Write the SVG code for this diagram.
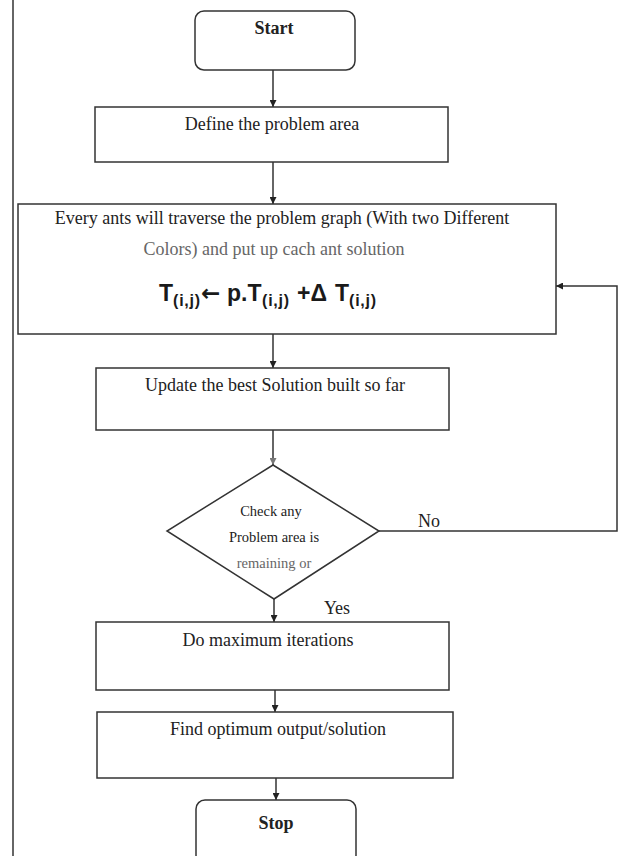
<svg xmlns="http://www.w3.org/2000/svg" width="628" height="856" viewBox="0 0 628 856">
<defs>
<marker id="ah" viewBox="0 0 10 10" refX="10" refY="5" markerWidth="7" markerHeight="7" orient="auto" markerUnits="userSpaceOnUse">
<path d="M0,0 L10,5 L0,10 z" fill="#222"/>
</marker>
<marker id="ahg" viewBox="0 0 10 10" refX="10" refY="5" markerWidth="7" markerHeight="7" orient="auto" markerUnits="userSpaceOnUse">
<path d="M0,0 L10,5 L0,10 z" fill="#777"/>
</marker>
</defs>
<style>
.box{fill:none;stroke:#333;stroke-width:1.5}
.t{font-family:"Liberation Serif",serif;font-size:18px;fill:#222;text-anchor:middle}
.b{font-weight:bold}
.s{font-size:14.5px}
.g{fill:#666}
.f{font-family:"Liberation Sans",Arial,sans-serif;font-weight:bold;font-size:23px;fill:#1a1a1a}
.sub{font-family:"Liberation Sans",Arial,sans-serif;font-weight:bold;font-size:16px;fill:#1a1a1a;letter-spacing:0.8px}
.arr{font-family:"DejaVu Sans",sans-serif;font-weight:bold;font-size:23px;fill:#1a1a1a}
.c{fill:none;stroke:#333;stroke-width:1.5}
</style>
<rect width="628" height="856" fill="#fff"/>
<line x1="13" y1="0" x2="13" y2="856" stroke="#333" stroke-width="1.5"/>
<g id="connectors">
<line class="c" x1="273" y1="70" x2="273" y2="107" marker-end="url(#ah)"/>
<line class="c" x1="273" y1="162" x2="273" y2="204" marker-end="url(#ah)"/>
<line class="c" x1="273" y1="334" x2="273" y2="368" marker-end="url(#ah)"/>
<line class="c" x1="273" y1="430" x2="273" y2="465" marker-end="url(#ahg)"/>
<polyline class="c" points="379,531 617,531 617,286 556,286" marker-end="url(#ah)"/>
<line class="c" x1="274" y1="599" x2="274" y2="622" marker-end="url(#ah)"/>
<line class="c" x1="275" y1="690" x2="275" y2="712" marker-end="url(#ah)"/>
<line class="c" x1="276" y1="778" x2="276" y2="800" marker-end="url(#ah)"/>
<text class="t" x="429" y="527">No</text>
<text class="t" x="337" y="614">Yes</text>
</g>
<g id="start">
<rect class="box" x="195" y="11" width="160" height="59" rx="9"/>
<text class="t b" x="274" y="34">Start</text>
</g>
<g id="define">
<rect class="box" x="95" y="107" width="353" height="55"/>
<text class="t" x="272" y="130">Define the problem area</text>
</g>
<g id="traverse">
<rect class="box" x="18" y="204" width="538" height="130"/>
<text class="t" x="282" y="224">Every ants will traverse the problem graph (With two Different</text>
<text class="t g" x="274" y="255">Colors) and put up cach ant solution</text>
<text class="f" x="159" y="301">T</text>
<text class="sub" x="173" y="306">(i,j)</text>
<text class="arr" x="201" y="301">←</text>
<text class="f" x="227" y="301">p.T</text>
<text class="sub" x="262" y="306">(i,j)</text>
<text class="f" x="297" y="301">+Δ</text>
<text class="f" x="335" y="301">T</text>
<text class="sub" x="349" y="306">(i,j)</text>
</g>
<g id="update">
<rect class="box" x="96" y="368" width="353" height="62"/>
<text class="t" x="275" y="391">Update the best Solution built so far</text>
</g>
<g id="check">
<polygon class="box" points="273,465 379,531 274,599 167,531"/>
<text class="t s" x="271" y="516">Check any</text>
<text class="t s" x="274" y="542">Problem area is</text>
<text class="t s g" x="274" y="568">remaining or</text>
</g>
<g id="iterate">
<rect class="box" x="96" y="622" width="353" height="68"/>
<text class="t" x="268" y="646">Do maximum iterations</text>
</g>
<g id="optimum">
<rect class="box" x="97" y="712" width="356" height="66"/>
<text class="t" x="278" y="735">Find optimum output/solution</text>
</g>
<g id="stop">
<rect class="box" x="196" y="800" width="160" height="64" rx="9"/>
<text class="t b" x="276" y="829">Stop</text>
</g>
</svg>
